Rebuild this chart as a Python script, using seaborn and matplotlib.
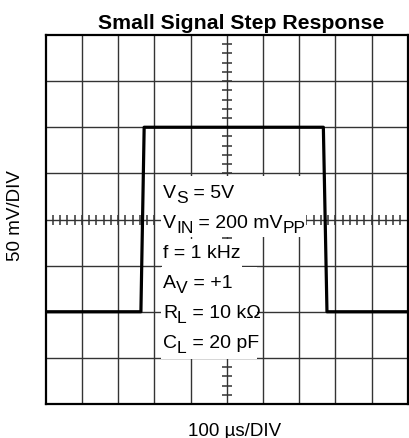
import numpy as np
import pandas as pd
import matplotlib
matplotlib.use("Agg")
import matplotlib.pyplot as plt
from matplotlib import transforms
from matplotlib.patches import Rectangle
import seaborn as sns

# Waveform: time in microseconds, output in millivolts
time_us = [0, 263, 272, 767, 777, 1000]
vout_mv = [-100, -100, 100, 100, -100, -100]

# Scope graticule
x_per_div = 100   # us/DIV
y_per_div = 50    # mV/DIV
x_divs = 10
y_divs = 8

title = "Small Signal Step Response"
x_label = "100 \u00b5s/DIV"
y_label = "50 mV/DIV"

# Test conditions: (main text, subscript) pieces per line
conditions = [
    [("V", False), ("S", True), (" = 5V", False)],
    [("V", False), ("IN", True), (" = 200 mV", False), ("PP", True)],
    [("f = 1 kHz", False)],
    [("A", False), ("V", True), (" = +1", False)],
    [("R", False), ("L", True), (" = 10 k\u03a9", False)],
    [("C", False), ("L", True), (" = 20 pF", False)],
]

sns.set_theme(style="white")
plt.rcParams["font.family"] = ["Liberation Sans", "DejaVu Sans"]

fig = plt.figure(figsize=(4.09, 4.39), dpi=100)
ax = fig.add_axes([45.7 / 409, 34 / 439, 362 / 409, 369 / 439])

x_min, x_max = 0, x_per_div * x_divs
y_min, y_max = -y_per_div * y_divs / 2, y_per_div * y_divs / 2
ax.set_xlim(x_min, x_max)
ax.set_ylim(y_min, y_max)

grid_col = "#333333"
for i in range(1, x_divs):
    ax.axvline(x_min + i * x_per_div, color=grid_col, lw=1.0, zorder=1)
for j in range(1, y_divs):
    ax.axhline(y_min + j * y_per_div, color=grid_col, lw=1.0, zorder=1)

# Minor ticks along the centre cross
x_mid = (x_min + x_max) / 2
y_mid = (y_min + y_max) / 2
ty = np.arange(y_min, y_max + 1, y_per_div / 5)
tx = np.arange(x_min, x_max + 1, x_per_div / 5)
ax.plot(np.full_like(ty, x_mid, dtype=float), ty, ls="none", marker="_",
        ms=6.5, mew=1.1, color=grid_col, zorder=1)
ax.plot(tx, np.full_like(tx, y_mid, dtype=float), ls="none", marker="|",
        ms=6.5, mew=1.1, color=grid_col, zorder=1)

# White backing behind the condition list
for (x0, x1, y0, y1) in [(318.5, 719.0, -19.0, 47.2),
                         (321.3, 542.3, -51.5, -21.1),
                         (318.5, 583.7, -151.3, -51.5)]:
    ax.add_patch(Rectangle((x0, y0), x1 - x0, y1 - y0, facecolor="white",
                           edgecolor="none", zorder=2))

df = pd.DataFrame({"t": time_us, "v": vout_mv})
sns.lineplot(data=df, x="t", y="v", color="black", lw=2.3, ax=ax,
             sort=False, zorder=3)

for s in ax.spines.values():
    s.set_color("black")
    s.set_linewidth(1.6)
    s.set_visible(True)
ax.set_xticks([])
ax.set_yticks([])
ax.set_xlabel("")
ax.set_ylabel("")

# Condition list, drawn piece by piece so subscripts sit low at near full size
fig.canvas.draw()
renderer = fig.canvas.get_renderer()
fs = 14.0
x_text = 324
y_first = 24.1
y_step = 32.5
for k, pieces in enumerate(conditions):
    yb = y_first - k * y_step
    dx = 0.0
    for txt, sub in pieces:
        tr = transforms.offset_copy(ax.transData, fig=fig, x=dx,
                                    y=-5.0 if sub else 0.0, units="dots")
        t = ax.text(x_text, yb, txt, transform=tr, fontsize=fs * (0.9 if sub else 1.0),
                    ha="left", va="baseline", color="black", zorder=4)
        dx += t.get_window_extent(renderer=renderer).width

fig.text(241.5 / 409, 1 - 29 / 439, title, fontsize=15.3, fontweight="bold",
         ha="center", va="baseline", color="black")
fig.text(235 / 409, 1 - 436 / 439, x_label, fontsize=13.5, ha="center",
         va="baseline", color="black")
fig.text(16 / 409, 1 - 216 / 439, y_label, fontsize=13.5, rotation=90,
         ha="center", va="center", color="black")

fig.savefig("out.png", dpi=100)
